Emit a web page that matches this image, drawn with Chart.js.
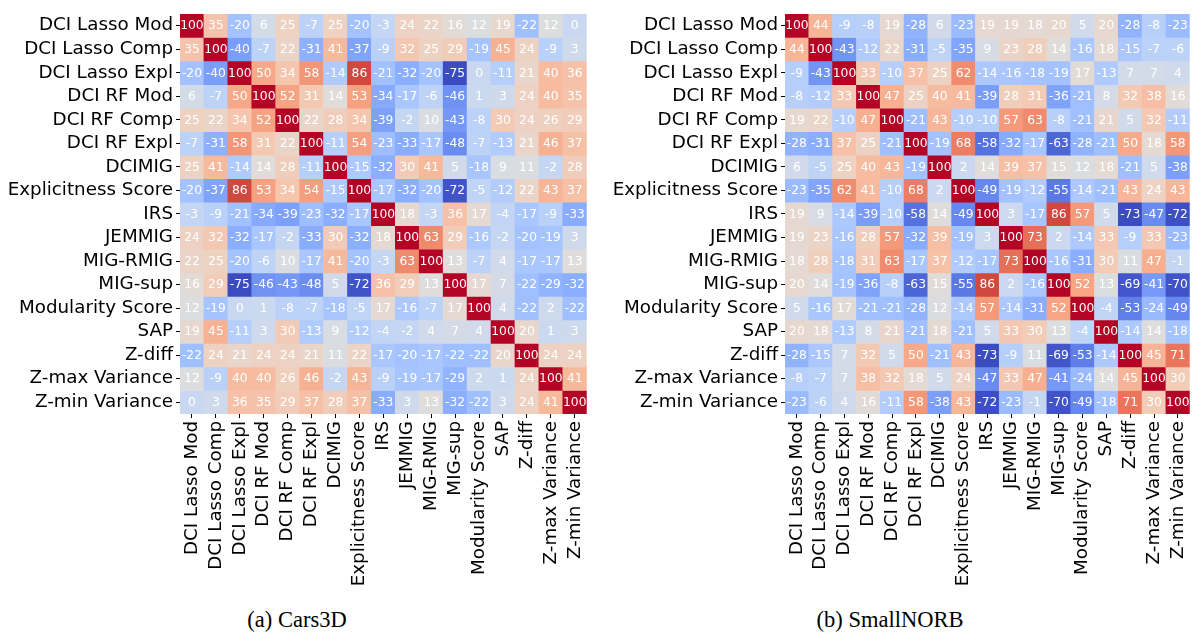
<!DOCTYPE html>
<html>
<head>
<meta charset="utf-8">
<script src="https://cdn.jsdelivr.net/npm/chart.js@4.4.0/dist/chart.umd.min.js"></script>
<style>
  body { margin: 0; background: #fff; width: 1203px; height: 635px; overflow: hidden; position: relative; }
  canvas { position: absolute; top: 0; }
  .cap { position: absolute; top: 607px; width: 300px; text-align: center;
         font-family: "Liberation Serif", serif; font-size: 22.5px; line-height: 25px; color: #000; }
</style>
</head>
<body>
<canvas id="cars3d" width="600" height="600" style="left:0"></canvas>
<canvas id="smallnorb" width="603" height="600" style="left:600px"></canvas>
<div class="cap" style="left:147px">(a) Cars3D</div>
<div class="cap" style="left:740px">(b) SmallNORB</div>
<script>
// metric names, used for both rows and columns
const metrics = ['DCI Lasso Mod', 'DCI Lasso Comp', 'DCI Lasso Expl', 'DCI RF Mod', 'DCI RF Comp',
  'DCI RF Expl', 'DCIMIG', 'Explicitness Score', 'IRS', 'JEMMIG', 'MIG-RMIG', 'MIG-sup',
  'Modularity Score', 'SAP', 'Z-diff', 'Z-max Variance', 'Z-min Variance'];

// rank correlation (%) on Cars3D
const cars3dValues = [
  [100, 35, -20, 6, 25, -7, 25, -20, -3, 24, 22, 16, 12, 19, -22, 12, 0],
  [35, 100, -40, -7, 22, -31, 41, -37, -9, 32, 25, 29, -19, 45, 24, -9, 3],
  [-20, -40, 100, 50, 34, 58, -14, 86, -21, -32, -20, -75, 0, -11, 21, 40, 36],
  [6, -7, 50, 100, 52, 31, 14, 53, -34, -17, -6, -46, 1, 3, 24, 40, 35],
  [25, 22, 34, 52, 100, 22, 28, 34, -39, -2, 10, -43, -8, 30, 24, 26, 29],
  [-7, -31, 58, 31, 22, 100, -11, 54, -23, -33, -17, -48, -7, -13, 21, 46, 37],
  [25, 41, -14, 14, 28, -11, 100, -15, -32, 30, 41, 5, -18, 9, 11, -2, 28],
  [-20, -37, 86, 53, 34, 54, -15, 100, -17, -32, -20, -72, -5, -12, 22, 43, 37],
  [-3, -9, -21, -34, -39, -23, -32, -17, 100, 18, -3, 36, 17, -4, -17, -9, -33],
  [24, 32, -32, -17, -2, -33, 30, -32, 18, 100, 63, 29, -16, -2, -20, -19, 3],
  [22, 25, -20, -6, 10, -17, 41, -20, -3, 63, 100, 13, -7, 4, -17, -17, 13],
  [16, 29, -75, -46, -43, -48, 5, -72, 36, 29, 13, 100, 17, 7, -22, -29, -32],
  [12, -19, 0, 1, -8, -7, -18, -5, 17, -16, -7, 17, 100, 4, -22, 2, -22],
  [19, 45, -11, 3, 30, -13, 9, -12, -4, -2, 4, 7, 4, 100, 20, 1, 3],
  [-22, 24, 21, 24, 24, 21, 11, 22, -17, -20, -17, -22, -22, 20, 100, 24, 24],
  [12, -9, 40, 40, 26, 46, -2, 43, -9, -19, -17, -29, 2, 1, 24, 100, 41],
  [0, 3, 36, 35, 29, 37, 28, 37, -33, 3, 13, -32, -22, 3, 24, 41, 100]
];

// rank correlation (%) on SmallNORB
const smallnorbValues = [
  [100, 44, -9, -8, 19, -28, 6, -23, 19, 19, 18, 20, 5, 20, -28, -8, -23],
  [44, 100, -43, -12, 22, -31, -5, -35, 9, 23, 28, 14, -16, 18, -15, -7, -6],
  [-9, -43, 100, 33, -10, 37, 25, 62, -14, -16, -18, -19, 17, -13, 7, 7, 4],
  [-8, -12, 33, 100, 47, 25, 40, 41, -39, 28, 31, -36, -21, 8, 32, 38, 16],
  [19, 22, -10, 47, 100, -21, 43, -10, -10, 57, 63, -8, -21, 21, 5, 32, -11],
  [-28, -31, 37, 25, -21, 100, -19, 68, -58, -32, -17, -63, -28, -21, 50, 18, 58],
  [6, -5, 25, 40, 43, -19, 100, 2, 14, 39, 37, 15, 12, 18, -21, 5, -38],
  [-23, -35, 62, 41, -10, 68, 2, 100, -49, -19, -12, -55, -14, -21, 43, 24, 43],
  [19, 9, -14, -39, -10, -58, 14, -49, 100, 3, -17, 86, 57, 5, -73, -47, -72],
  [19, 23, -16, 28, 57, -32, 39, -19, 3, 100, 73, 2, -14, 33, -9, 33, -23],
  [18, 28, -18, 31, 63, -17, 37, -12, -17, 73, 100, -16, -31, 30, 11, 47, -1],
  [20, 14, -19, -36, -8, -63, 15, -55, 86, 2, -16, 100, 52, 13, -69, -41, -70],
  [5, -16, 17, -21, -21, -28, 12, -14, 57, -14, -31, 52, 100, -4, -53, -24, -49],
  [20, 18, -13, 8, 21, -21, 18, -21, 5, 33, 30, 13, -4, 100, -14, 14, -18],
  [-28, -15, 7, 32, 5, 50, -21, 43, -73, -9, 11, -69, -53, -14, 100, 45, 71],
  [-8, -7, 7, 38, 32, 18, 5, 24, -47, 33, 47, -41, -24, 14, 45, 100, 30],
  [-23, -6, 4, 16, -11, 58, -38, 43, -72, -23, -1, -70, -49, -18, 71, 30, 100]
];

// matplotlib "coolwarm" control colours, evenly spaced from 0 to 1
const coolwarmStops = [
  [59, 76, 192], [68, 90, 204], [77, 104, 215], [87, 117, 225], [98, 130, 234], [108, 142, 241],
  [119, 154, 247], [130, 165, 251], [141, 176, 254], [152, 185, 255], [163, 194, 255], [174, 201, 253],
  [184, 208, 249], [194, 213, 244], [204, 217, 238], [213, 219, 230], [221, 221, 221], [229, 216, 209],
  [236, 211, 197], [241, 204, 184], [245, 196, 172], [247, 187, 159], [247, 177, 147], [247, 166, 134],
  [244, 154, 123], [241, 141, 111], [236, 127, 99], [229, 112, 88], [222, 96, 77], [213, 80, 66],
  [203, 62, 56], [192, 40, 47], [180, 4, 38]
];

function coolwarm(t) {
  t = Math.max(0, Math.min(1, t));
  const pos = t * (coolwarmStops.length - 1);
  const i = Math.min(Math.floor(pos), coolwarmStops.length - 2);
  const f = pos - i;
  const a = coolwarmStops[i], b = coolwarmStops[i + 1];
  const c = a.map((v, k) => Math.round(v + (b[k] - v) * f));
  return `rgb(${c[0]},${c[1]},${c[2]})`;
}

// writes the value in the middle of every cell
const cellText = {
  id: 'cellText',
  afterDatasetsDraw(chart) {
    const ctx = chart.ctx;
    ctx.save();
    ctx.font = '12.3px "DejaVu Sans"';
    ctx.fillStyle = '#fff';
    ctx.textAlign = 'center';
    ctx.textBaseline = 'middle';
    chart.data.datasets.forEach((ds, i) => {
      chart.getDatasetMeta(i).data.forEach((el, j) => {
        const p = el.getCenterPoint();
        ctx.fillText(String(ds.values[j]), p.x, p.y + 0.5);
      });
    });
    ctx.restore();
  }
};

function drawHeatmap(canvasId, values, axisWidth, rightPad) {
  const all = values.flat();
  const vmin = Math.min(...all);
  const vmax = Math.max(...all);
  const labelFont = { family: '"DejaVu Sans"', size: 18.3 };

  // one floating-bar dataset per row, spanning [row, row + 1] on the y scale
  const datasets = values.map((row, r) => ({
    data: row.map(() => [r, r + 1]),
    values: row,
    backgroundColor: row.map(v => coolwarm((v - vmin) / (vmax - vmin))),
    borderWidth: 0,
    barPercentage: 1,
    categoryPercentage: 1,
    grouped: false
  }));

  new Chart(document.getElementById(canvasId), {
    type: 'bar',
    data: { labels: metrics, datasets: datasets },
    options: {
      responsive: false,
      animation: false,
      layout: { padding: { top: 5, right: rightPad, left: 0, bottom: 0 } },
      plugins: { legend: { display: false }, tooltip: { enabled: false } },
      scales: {
        x: {
          type: 'category',
          offset: true,
          grid: { offset: false, drawOnChartArea: false, tickLength: 4, color: '#000' },
          border: { display: false },
          ticks: { minRotation: 90, maxRotation: 90, autoSkip: false, font: labelFont, color: '#000', padding: 3 },
          afterFit: s => { s.height = 186; }
        },
        y: {
          type: 'linear',
          min: 0,
          max: metrics.length,
          reverse: true,
          afterBuildTicks: s => { s.ticks = metrics.map((_, i) => ({ value: i + 0.5 })); },
          afterFit: s => { s.width = axisWidth; },
          grid: { drawOnChartArea: false, tickLength: 4, color: '#000' },
          border: { display: false },
          ticks: { autoSkip: false, font: labelFont, color: '#000', padding: 3,
                   callback: v => metrics[Math.floor(v)] }
        }
      }
    },
    plugins: [cellText]
  });
}

drawHeatmap('cars3d', cars3dValues, 180, 9);
drawHeatmap('smallnorb', smallnorbValues, 185, 7);
</script>
</body>
</html>
